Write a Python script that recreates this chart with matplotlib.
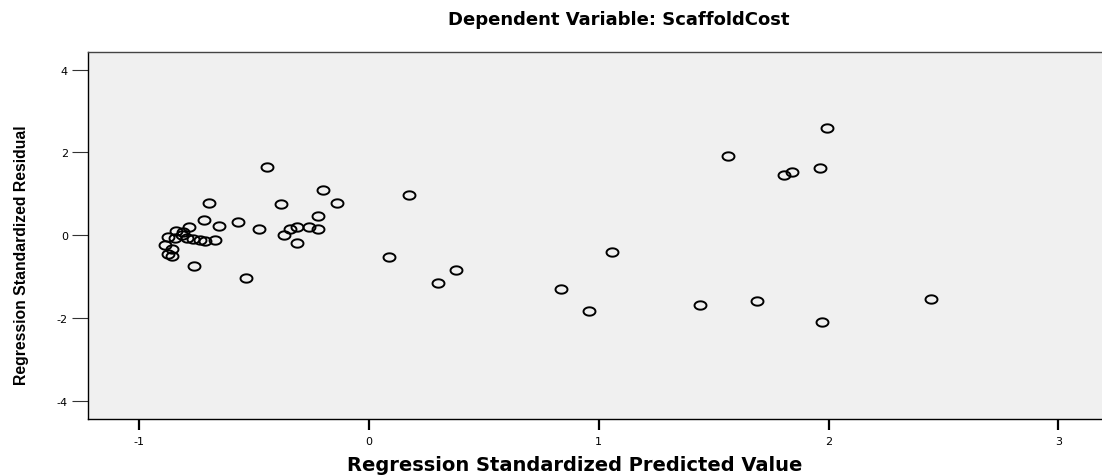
import numpy as np
import matplotlib
matplotlib.use('Agg')
import matplotlib.pyplot as plt
from matplotlib.path import Path

plt.rcParams['font.family'] = ['DejaVu Sans']
plt.rcParams['axes.unicode_minus'] = False

# predicted (x) / residual (y)
pred = [1.993, 1.564, 1.807, 1.841, 1.961, 1.056, 0.838, 0.956, 1.443, 1.688,
        1.973, 2.446, 0.175, 0.087, 0.30, 0.38,
        -0.443, -0.199, -0.381, -0.138, -0.571, -0.48, -0.222, -0.343, -0.314,
        -0.260, -0.222, -0.371, -0.314, -0.534,
        -0.694, -0.716, -0.65, -0.781, -0.839, -0.81, -0.873, -0.844, -0.815,
        -0.793, -0.764, -0.735, -0.713, -0.67, -0.887, -0.858, -0.873, -0.858,
        -0.762]
resid = [2.59, 1.92, 1.46, 1.54, 1.63, -0.41, -1.29, -1.82, -1.68, -1.59,
         -2.09, -1.54, 0.97, -0.53, -1.15, -0.84,
         1.66, 1.10, 0.75, 0.77, 0.31, 0.15, 0.46, 0.15, 0.20,
         0.20, 0.15, 0.0, -0.19, -1.02,
         0.78, 0.37, 0.23, 0.20, 0.11, 0.075, -0.03, -0.06, 0.0,
         -0.06, -0.09, -0.11, -0.13, -0.11, -0.23, -0.33, -0.45, -0.51,
         -0.73]
xticks = [-1, 0, 1, 2, 3]
yticks = [-4, -2, 0, 2, 4]

# flat ellipse marker like the SPSS one
t = np.linspace(0, 2 * np.pi, 60)
ell = Path(np.column_stack([np.cos(t), 0.7 * np.sin(t)]), closed=True)

fig = plt.figure(figsize=(11.02, 4.77), dpi=100)
ax = fig.add_axes([88 / 1102, 57 / 477, 1014 / 1102, 367.3 / 477])
ax.set_facecolor('#f0f0f0')
ax.plot(pred, resid, ls='none', marker=ell, markersize=8.6,
        markerfacecolor='none', markeredgecolor='black', markeredgewidth=1.4)

ax.set_xlim(-1.222, 3.19)
ax.set_ylim(-4.43, 4.43)
ax.set_xticks(xticks)
ax.set_yticks(yticks)
ax.tick_params(axis='x', length=8, width=1.6, pad=4, labelsize=8, color='black')
ax.tick_params(axis='y', length=11.5, width=0.8, pad=3, labelsize=8, color='#333333')
ax.spines['right'].set_visible(False)
ax.spines['top'].set_color('#444444')
for s in ['left', 'bottom', 'top']:
    ax.spines[s].set_linewidth(1.0)

fig.text(619 / 1102, 1 - 20 / 477, 'Dependent Variable: ScaffoldCost',
         ha='center', va='center', fontsize=13, fontweight='bold')
fig.text(575 / 1102, 1 - 466 / 477, 'Regression Standardized Predicted Value',
         ha='center', va='center', fontsize=14, fontweight='bold')
fig.text(22 / 1102, 1 - 255 / 477, 'Regression Standardized Residual',
         ha='center', va='center', rotation=90, fontsize=11.3, fontweight='bold',
         family=['Liberation Sans Narrow', 'Liberation Sans'])

fig.savefig('out.png', dpi=100)
